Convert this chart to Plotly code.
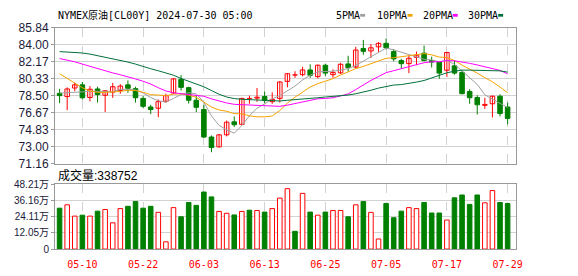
import plotly.graph_objects as go

W, H = 578, 276

title_text = "NYMEX原油[CL00Y] 2024-07-30 05:00"
volume_label = "成交量"
last_volume = 338752

dates = ["05-07", "05-08", "05-09", "05-10", "05-13", "05-14", "05-15", "05-16", "05-17",
         "05-20", "05-21", "05-22", "05-23", "05-24", "05-27", "05-28", "05-29", "05-30", "05-31",
         "06-03", "06-04", "06-05", "06-06", "06-07", "06-10", "06-11", "06-12", "06-13", "06-14",
         "06-17", "06-18", "06-19", "06-20", "06-21", "06-24", "06-25", "06-26", "06-27", "06-28",
         "07-01", "07-02", "07-03", "07-04", "07-05", "07-08", "07-09", "07-10", "07-11", "07-12",
         "07-15", "07-16", "07-17", "07-18", "07-19", "07-22", "07-23", "07-24", "07-25", "07-26",
         "07-29"]

opens = [78.74, 78.40, 79.32, 79.66, 78.30, 79.22, 78.54, 78.88, 79.05, 79.66,
         79.25, 78.20, 77.27, 77.14, 77.89, 78.78, 80.25, 79.36, 78.00, 77.00,
         74.03, 72.97, 74.27, 75.67, 75.40, 78.18, 78.23, 78.40, 77.85, 78.20,
         80.04, 80.72, 80.76, 81.27, 80.55, 81.78, 80.76, 80.96, 81.92, 81.58,
         83.59, 83.32, 83.76, 84.14, 83.25, 82.29, 81.95, 82.63, 83.08, 82.29,
         82.12, 81.24, 81.71, 81.00, 78.95, 78.30, 77.45, 77.62, 78.43, 77.27]
highs = [79.22, 79.39, 79.90, 79.97, 79.53, 79.46, 79.08, 79.87, 79.73, 80.14,
         79.46, 78.47, 77.51, 78.09, 78.71, 80.38, 80.72, 79.46, 78.54, 77.51,
         74.20, 74.34, 75.81, 76.25, 78.26, 78.50, 79.32, 78.95, 78.85, 80.07,
         80.93, 81.13, 81.61, 81.88, 81.85, 81.95, 81.34, 82.05, 82.80, 83.76,
         84.51, 84.07, 84.27, 84.68, 83.49, 82.46, 82.80, 83.25, 83.90, 82.70,
         82.19, 83.22, 82.29, 81.27, 79.19, 78.54, 78.26, 78.50, 78.64, 77.75]
lows = [77.68, 76.93, 78.98, 78.09, 77.89, 77.75, 76.73, 78.26, 78.71, 78.81,
        77.75, 77.17, 76.52, 76.18, 77.75, 78.71, 79.05, 77.65, 76.73, 73.93,
        72.39, 72.90, 74.10, 75.12, 75.30, 77.62, 77.82, 77.69, 77.62, 77.75,
        79.39, 80.42, 80.59, 80.42, 80.35, 80.59, 80.42, 80.83, 81.10, 81.44,
        82.91, 82.57, 83.22, 83.49, 82.19, 81.44, 80.93, 81.78, 82.19, 81.54,
        80.31, 80.52, 80.76, 78.64, 77.62, 76.46, 77.07, 76.15, 76.25, 75.40]
closes = [78.50, 79.22, 79.66, 78.27, 79.19, 78.61, 79.02, 79.46, 79.53, 79.29,
          78.27, 77.34, 77.00, 77.85, 78.50, 80.31, 79.39, 78.00, 77.24, 74.03,
          72.90, 74.27, 75.63, 75.36, 78.20, 78.18, 78.33, 77.96, 78.09, 79.97,
          80.86, 80.72, 81.27, 80.69, 81.78, 80.93, 81.00, 81.88, 81.51, 83.42,
          83.28, 83.66, 84.14, 83.66, 82.46, 81.95, 82.53, 82.87, 82.29, 82.12,
          80.93, 83.15, 80.93, 78.71, 78.27, 77.51, 77.55, 78.43, 76.56, 76.04]

# volume in 万 (10k lots)
volumes = [30.4, 32.9, 24.5, 25.2, 24.5, 28.2, 29.4, 19.5, 30.1, 31.8,
           35.3, 30.4, 31.8, 27.3, 5.4, 30.8, 24.0, 34.6, 32.5, 42.4,
           38.8, 28.0, 26.6, 25.4, 28.0, 28.9, 28.7, 27.5, 30.1, 37.9,
           44.9, 13.2, 41.4, 27.5, 25.2, 27.5, 28.7, 28.7, 24.0, 32.9,
           35.3, 27.3, 7.5, 33.9, 23.3, 28.2, 30.8, 30.1, 34.6, 26.8,
           26.8, 21.6, 38.1, 40.2, 33.2, 40.2, 34.4, 43.5, 34.6, 33.88]

ma5 = [78.78, 78.80, 78.85, 78.90, 78.97, 78.99, 78.95, 78.91, 79.16, 79.18,
       79.11, 78.78, 78.29, 77.95, 77.79, 78.20, 78.61, 78.81, 78.69, 77.79,
       76.31, 75.29, 74.81, 74.44, 75.27, 76.33, 77.14, 77.61, 78.15, 78.51,
       79.04, 79.53, 80.19, 80.71, 81.07, 81.09, 81.13, 81.26, 81.42, 81.75,
       82.22, 82.75, 83.20, 83.63, 83.44, 83.17, 82.95, 82.69, 82.42, 82.35,
       82.15, 82.27, 81.88, 81.17, 80.40, 79.71, 78.59, 78.09, 77.66, 77.22]
ma10 = [80.86, 80.35, 79.85, 79.35, 79.00, 78.85, 78.85, 78.87, 78.95, 79.08,
        79.05, 78.86, 78.60, 78.56, 78.49, 78.66, 78.69, 78.55, 78.32, 77.79,
        77.26, 76.95, 76.81, 76.56, 76.53, 76.32, 76.21, 76.21, 76.30, 76.89,
        77.69, 78.33, 78.90, 79.43, 79.79, 80.06, 80.33, 80.72, 81.07, 81.41,
        81.65, 81.94, 82.23, 82.53, 82.59, 82.70, 82.85, 82.95, 83.03, 82.90,
        82.66, 82.61, 82.29, 81.79, 81.38, 80.93, 80.43, 79.99, 79.42, 78.81]
ma20 = [82.50, 82.35, 82.15, 81.90, 81.65, 81.40, 81.15, 80.95, 80.75, 80.55,
        80.30, 80.05, 79.75, 79.35, 79.00, 78.80, 78.70, 78.60, 78.50, 78.43,
        78.15, 77.91, 77.71, 77.56, 77.51, 77.49, 77.45, 77.38, 77.31, 77.34,
        77.47, 77.64, 77.86, 78.00, 78.16, 78.19, 78.27, 78.47, 78.68, 79.15,
        79.67, 80.14, 80.56, 80.98, 81.19, 81.38, 81.59, 81.84, 82.05, 82.15,
        82.16, 82.28, 82.26, 82.16, 81.98, 81.81, 81.64, 81.47, 81.22, 80.85]
ma30 = [83.25, 83.22, 83.18, 83.10, 82.98, 82.82, 82.65, 82.48, 82.30, 82.12,
        81.90, 81.62, 81.40, 81.18, 80.95, 80.70, 80.35, 80.05, 79.75, 79.45,
        79.05, 78.65, 78.35, 78.18, 78.10, 78.05, 78.00, 77.96, 77.93, 77.92,
        78.00, 78.05, 78.10, 78.18, 78.27, 78.35, 78.41, 78.49, 78.56, 78.70,
        78.86, 79.08, 79.31, 79.51, 79.64, 79.69, 79.80, 79.96, 80.13, 80.40,
        80.67, 80.96, 81.14, 81.25, 81.25, 81.23, 81.20, 81.22, 81.17, 81.04]

price_ticks = [71.16, 73.00, 74.83, 76.67, 78.50, 80.33, 82.17, 84.00, 85.84]
vol_ticks = [0, 12.05, 24.11, 36.16, 48.21]
ma_names = ["5PMA", "10PMA", "20PMA", "30PMA"]

# ---- styles ----
RED = "#ff0000"
GREEN = "#008000"
MA_COLORS = ["#a0a0a0", "#f5a300", "#ff00ff", "#00703a"]
GRID = "#d2d2d2"
BORDER = "#999999"
LABEL = "#1a1a3a"
MONO = "DejaVu Sans Mono, Noto Sans CJK SC, monospace"
SANS = "Arial, Liberation Sans, Noto Sans CJK SC, sans-serif"
BAR_W = 0.6

def px_x(px):
    return px / W

def px_y(py):
    return 1 - py / H

X_DOM = [px_x(55.7), px_x(522.3)]
Y1_DOM = [px_y(165.0), px_y(21.7)]
Y2_DOM = [px_y(255.0), px_y(186.7)]

n = len(dates)
xs = list(range(n))
up = [c >= o for o, c in zip(opens, closes)]
vol_up = [c > o for o, c in zip(opens, closes)]

fig = go.Figure()

# wicks
for flag, col in ((True, RED), (False, GREEN)):
    wx, wy = [], []
    for i in xs:
        if up[i] == flag:
            wx += [i, i, None]
            wy += [lows[i], highs[i], None]
    fig.add_trace(go.Scatter(x=wx, y=wy, mode="lines", line=dict(color=col, width=1),
                             xaxis="x", yaxis="y", hoverinfo="skip", showlegend=False))

# bodies
for flag, col, fill in ((True, RED, "#ffffff"), (False, GREEN, GREEN)):
    bx, by, bb = [], [], []
    for i in xs:
        if up[i] == flag:
            bx.append(i)
            by.append(max(abs(closes[i] - opens[i]), 0.02))
            bb.append(min(opens[i], closes[i]))
    fig.add_trace(go.Bar(x=bx, y=by, base=bb, width=BAR_W,
                         marker=dict(color=fill, line=dict(color=col, width=1)),
                         xaxis="x", yaxis="y", showlegend=False, hoverinfo="skip"))

# moving averages
for name, vals, col in zip(ma_names, (ma5, ma10, ma20, ma30), MA_COLORS):
    fig.add_trace(go.Scatter(x=xs, y=vals, mode="lines", name=name,
                             line=dict(color=col, width=1),
                             xaxis="x", yaxis="y", showlegend=False, hoverinfo="skip"))

# volume
for flag, col, fill in ((True, RED, "#ffffff"), (False, GREEN, GREEN)):
    vx = [i for i in xs if vol_up[i] == flag]
    vy = [volumes[i] for i in vx]
    fig.add_trace(go.Bar(x=vx, y=vy, width=BAR_W,
                         marker=dict(color=fill, line=dict(color=col, width=1)),
                         xaxis="x2", yaxis="y2", showlegend=False, hoverinfo="skip"))

tick_idx = list(range(3, n, 8))
tick_txt = [dates[i] for i in tick_idx]

common_x = dict(range=[-0.6, 60.1], tickvals=tick_idx, showgrid=True, griddash="dash",
                gridcolor=GRID, gridwidth=1, zeroline=False, showline=True, mirror=True,
                linecolor=BORDER, linewidth=1, ticks="", fixedrange=True)

fig.update_layout(
    width=W, height=H, autosize=False,
    margin=dict(l=0, r=0, t=0, b=0),
    paper_bgcolor="white", plot_bgcolor="white",
    barmode="overlay", showlegend=False,
    xaxis=dict(domain=X_DOM, anchor="y", showticklabels=False, **common_x),
    xaxis2=dict(domain=X_DOM, anchor="y2", matches="x", ticktext=tick_txt,
                ticklabelstandoff=6,
                tickfont=dict(family=MONO, size=10, color=RED), **common_x),
    yaxis=dict(domain=Y1_DOM, anchor="x", range=[price_ticks[0], price_ticks[-1]],
               tickvals=price_ticks, ticktext=["%.2f" % v for v in price_ticks],
               showgrid=True, gridcolor=GRID, zeroline=False, showline=True, mirror=True,
               linecolor=BORDER, ticks="outside", ticklen=3, tickcolor=BORDER,
               tickfont=dict(family=SANS, size=12, color=LABEL)),
    yaxis2=dict(domain=Y2_DOM, anchor="x2", range=[vol_ticks[0], vol_ticks[-1]],
                tickvals=vol_ticks,
                ticktext=["0" if v == 0 else "%.2f万" % v for v in vol_ticks],
                showgrid=True, gridcolor=GRID, zeroline=False, showline=True, mirror=True,
                linecolor=BORDER, ticks="outside", ticklen=3, tickcolor=BORDER,
                tickfont=dict(family=SANS, size=10, color=LABEL)),
)

annotations = [
    dict(x=px_x(57), y=px_y(8), xref="paper", yref="paper", xanchor="left", yanchor="middle",
         text=title_text, showarrow=False, font=dict(family=MONO, size=10, color="#000000")),
    dict(x=px_x(57), y=px_y(177.5), xref="paper", yref="paper", xanchor="left", yanchor="middle",
         text="%s:%d" % (volume_label, last_volume), showarrow=False,
         font=dict(family=SANS, size=12, color="#000000")),
]
shapes = []
legend_x = [338, 380, 425.7, 471.7]
for name, col, lx in zip(ma_names, MA_COLORS, legend_x):
    annotations.append(dict(x=px_x(lx), y=px_y(8.7), xref="paper", yref="paper",
                            xanchor="left", yanchor="middle", text=name, showarrow=False,
                            font=dict(family=MONO, size=10, color="#000000")))
    mx = lx + len(name) * 6.02 + 2.5
    shapes.append(dict(type="rect", xref="paper", yref="paper",
                       x0=px_x(mx), x1=px_x(mx + 5), y0=px_y(10.2), y1=px_y(7.3),
                       fillcolor=col, line=dict(width=0)))

fig.update_layout(annotations=annotations, shapes=shapes)

fig.write_html("out.html")
